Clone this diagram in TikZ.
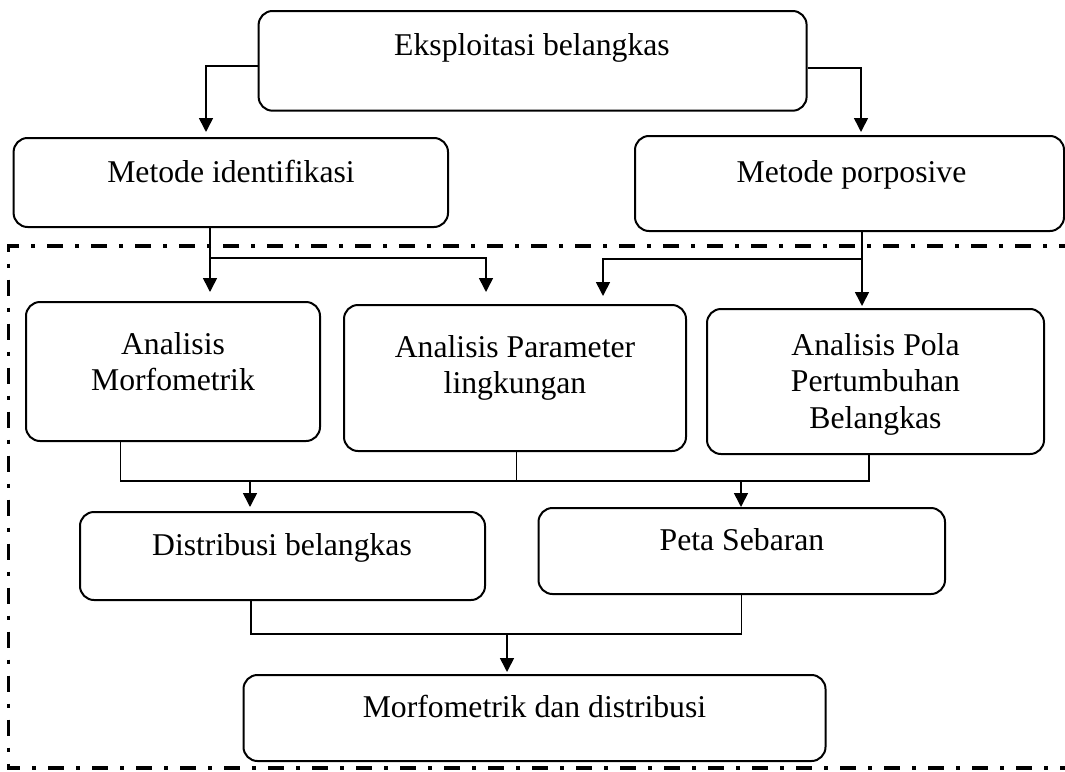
\documentclass[tikz,border=0pt]{standalone}
\usepackage{fontspec}
\setmainfont{Liberation Serif}
\usetikzlibrary{arrows.meta}

\tikzset{every picture/.style={line width=1.6pt}}
\tikzset{
  box/.style={draw, rounded corners=14pt, line width=2pt, inner sep=0pt},
  txt/.style={inner sep=0pt, align=center, anchor=base, font=\fontsize{31.7}{35.5}\selectfont},
  frame/.style={line width=3.5pt, dash pattern=on 16pt off 12pt on 4pt off 12pt},
  >={Triangle[length=14pt,width=14pt]}
}

\begin{document}
\begin{tikzpicture}[x=1pt,y=1pt,yscale=-1,xscale=1]
\useasboundingbox (0,0) rectangle (1065,771);

% kotak
\node[box, minimum width=548pt, minimum height=99.7pt] (eks) at (532.6,60.85) {};
\node[box, minimum width=434.4pt, minimum height=89pt] (ident) at (230.8,182.5) {};
\node[box, minimum width=429pt, minimum height=95pt] (porp) at (849.5,183.5) {};
\node[box, minimum width=294pt, minimum height=139pt] (morf) at (173,371.5) {};
\node[box, minimum width=342pt, minimum height=146pt] (param) at (515,378) {};
\node[box, minimum width=337pt, minimum height=145pt] (pola) at (875.5,381.5) {};
\node[box, minimum width=405pt, minimum height=88pt] (distr) at (282.5,556) {};
\node[box, minimum width=406.5pt, minimum height=86pt] (peta) at (741.75,551) {};
\node[box, minimum width=582pt, minimum height=86pt] (hasil) at (534.5,718) {};

% teks (base = baris terakhir)
\node[txt] (eksT) at (532,55) {Eksploitasi belangkas};
\node[txt] (identT) at (231,182) {Metode identifikasi};
\node[txt] (porpT) at (851.5,182) {Metode porposive};
\node[txt] (morfT) at (173,390) {Analisis\\Morfometrik};
\node[txt] (paramT) at (515,393) {Analisis Parameter\\lingkungan};
\node[txt, font=\fontsize{31.7}{36.5}\selectfont] (polaT) at (875.5,428) {Analisis Pola\\Pertumbuhan\\Belangkas};
\node[txt] (distrT) at (282,555) {Distribusi belangkas};
\node[txt] (petaT) at (742,550) {Peta Sebaran};
\node[txt] (hasilT) at (534.5,717) {Morfometrik dan distribusi};

% bingkai
\draw[frame] (1075,246) -- (8.6,246) -- (8.6,768) -- (1075,768);

% panah atas
\coordinate (jl) at (206,66);
\coordinate (jr) at (861,68);
\draw[->, shorten >=5pt] (eks.west |- jl) -| (ident.north -| jl);
\draw[->, shorten >=3pt] (eks.east |- jr) -| (porp.north -| jr);

\coordinate (ja) at (210,258);
\coordinate (jb) at (486,258);
\coordinate (jc) at (862,259);
\coordinate (jd) at (603,259);
\draw[->, shorten >=9pt] (ident.south -| ja) -- (morf.north -| ja);
\draw[->, shorten >=12pt] (ja) -| (param.north -| jb);
\draw[->, shorten >=2pt] (porp.south -| jc) -- (pola.north -| jc);
\draw[->, shorten >=8pt] (jc) -| (param.north -| jd);

% panah tengah
\coordinate (ka) at (120.5,481);
\coordinate (kb) at (516.5,481);
\coordinate (kc) at (869,481);
\coordinate (kd) at (250,481);
\coordinate (ke) at (741,481);
\draw (morf.south -| ka) -- (ka) -- (kc) -- (pola.south -| kc);
\draw (param.south -| kb) -- (kb);
\draw[->, shorten >=4pt] (kd) -- (distr.north -| kd);
\draw[->] (ke) -- (peta.north -| ke);

% panah bawah
\coordinate (la) at (251,634);
\coordinate (lb) at (741.5,634);
\coordinate (lc) at (507,634);
\draw (distr.south -| la) -- (la) -- (lb) -- (peta.south -| lb);
\draw[->, shorten >=2pt] (lc) -- (hasil.north -| lc);

\end{tikzpicture}
\end{document}
